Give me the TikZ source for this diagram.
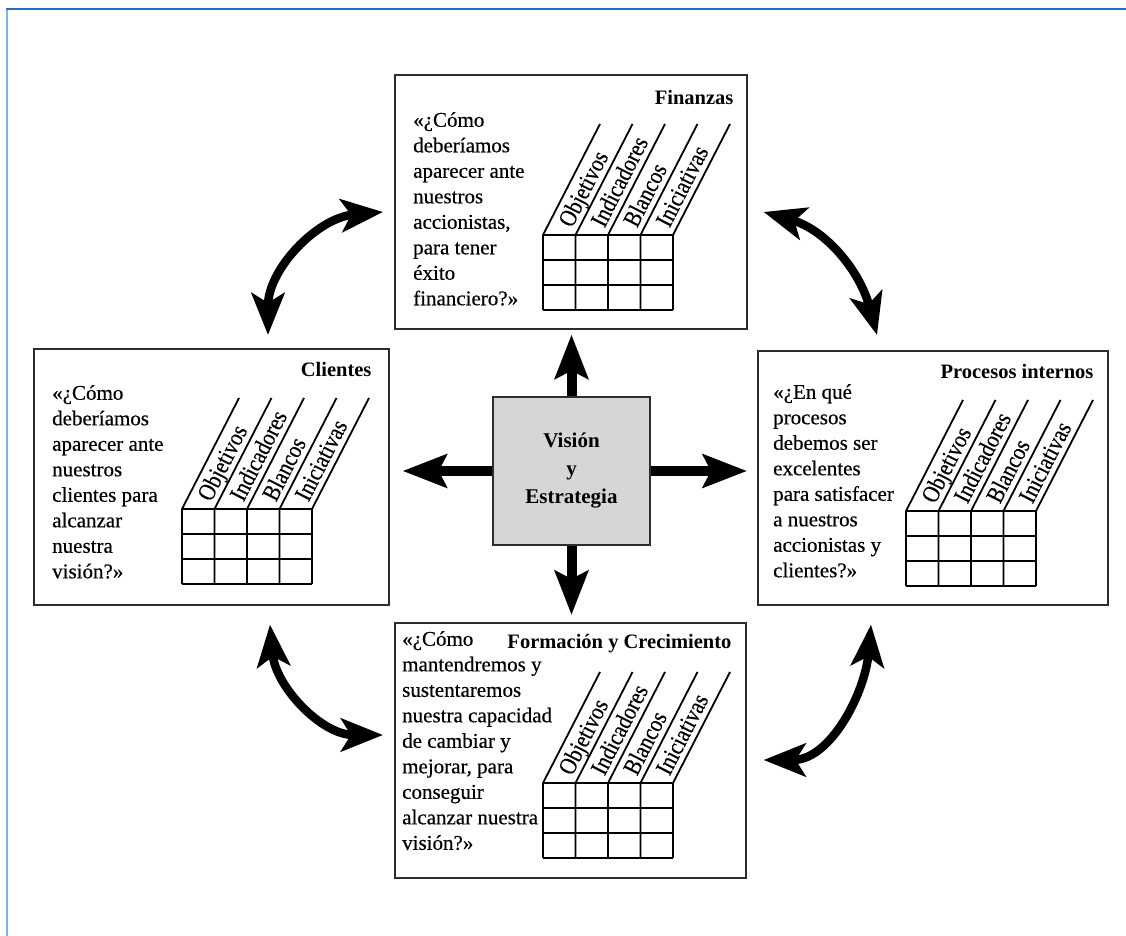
\documentclass[tikz,border=0pt]{standalone}
\usepackage{fontspec}
\setmainfont{Liberation Serif}
\newfontfamily\labfont[FakeStretch=0.85,FakeBold=0.4]{Liberation Serif}
\newfontfamily\txtfont[FakeBold=0.4]{Liberation Serif}
\usetikzlibrary{calc,arrows.meta}
\definecolor{bluetop}{RGB}{38,112,184}
\definecolor{blueleft}{RGB}{128,180,226}
\definecolor{visfill}{RGB}{214,214,214}
\definecolor{boxline}{RGB}{45,45,45}
\tikzset{
  panel/.style={draw=boxline, line width=1.6pt, fill=white, inner sep=0pt, anchor=north west},
  titlest/.style={anchor=base east, inner sep=0pt, font=\fontsize{20.5}{24}\selectfont\bfseries},
  bodyst/.style={anchor=north west, align=left, inner sep=0pt, font=\txtfont\fontsize{21}{25.5}\selectfont},
  tabline/.style={line width=1.8pt, black},
  collab/.style={rotate=63, anchor=base west, inner sep=0pt, font=\labfont\fontsize{24.5}{24.5}\selectfont},
  bigarrow/.style={line width=10pt, >={Stealth[length=44pt,width=33pt,inset=8pt]}, ->},
  curvarrow/.style={line width=8.5pt, >={Stealth[length=42pt,width=33pt,inset=10pt]}, <->},
}
\newcommand{\bsctable}[1]{%
  \begin{scope}[shift={($(#1.north west)+(149,-236)$)}]
    \foreach \r in {0,25,50,75} \draw[tabline] (0,\r) -- (130,\r);
    \foreach \c in {0,32.5,65,97.5,130} \draw[tabline] (\c,0) -- (\c,75) -- ++(57,111);
    \foreach \lab [count=\i] in {Objetivos,Indicadores,Blancos,Iniciativas}
      \node[collab] at ($(32.5*\i,75)+(63:4)+(153:6)$) {\lab};
  \end{scope}}
\begin{document}
\begin{tikzpicture}[x=1pt,y=1pt]
\useasboundingbox (0,0) rectangle (1126,936);
\fill[white] (0,0) rectangle (1126,936);
\draw[blueleft, line width=2.5pt] (7,927) -- (7,0);
\draw[bluetop, line width=2pt] (6,927) -- (1126,927);

% panels
\node[panel, minimum width=352, minimum height=254] (fin) at (394,862) {};
\node[panel, minimum width=355, minimum height=256] (cli) at (33,588) {};
\node[panel, minimum width=350, minimum height=254] (pro) at (757,586) {};
\node[panel, minimum width=351, minimum height=255] (frm) at (394,314) {};

% titles
\node[titlest] (finT) at ($(fin.north east)+(-14,-31)$) {Finanzas};
\node[titlest] (cliT) at ($(cli.north east)+(-18,-29)$) {Clientes};
\node[titlest] (proT) at ($(pro.north east)+(-15,-29)$) {Procesos internos};
\node[titlest] (frmT) at ($(frm.north east)+(-15,-27)$) {Formación y Crecimiento};

% body texts
\node[bodyst] (finB) at ($(fin.north west)+(19,-38)$) {«¿Cómo\\deberíamos\\aparecer ante\\nuestros\\accionistas,\\para tener\\éxito\\financiero?»};
\node[bodyst] (cliB) at ($(cli.north west)+(19,-37)$) {«¿Cómo\\deberíamos\\aparecer ante\\nuestros\\clientes para\\alcanzar\\nuestra\\visión?»};
\node[bodyst] (proB) at ($(pro.north west)+(16,-34)$) {«¿En qué\\procesos\\debemos ser\\excelentes\\para satisfacer\\a nuestros\\accionistas y\\clientes?»};
\node[bodyst] (frmB) at ($(frm.north west)+(8,-9)$) {«¿Cómo\\mantendremos y\\sustentaremos\\nuestra capacidad\\de cambiar y\\mejorar, para\\conseguir\\alcanzar nuestra\\visión?»};

% tables
\bsctable{fin}
\bsctable{cli}
\bsctable{pro}
\bsctable{frm}

% center
\node[draw=boxline, line width=1.6pt, fill=visfill, minimum width=157, minimum height=148, inner sep=0pt,
      align=center, font=\fontsize{21}{28}\selectfont\bfseries] (vis) at (571.5,465) {Visión\\y\\Estrategia};

\draw[bigarrow, shorten >=5pt] (vis.north) -- (vis.north |- fin.south);
\draw[bigarrow, shorten >=7pt] (vis.south) -- (vis.south |- frm.north);
\draw[bigarrow, shorten >=13pt] (vis.west) -- (vis.west -| cli.east);
\draw[bigarrow, shorten >=10pt] (vis.east) -- (vis.east -| pro.west);

% curved double arrows
\coordinate (tlA) at ($(fin.north west)+(-11,-138)$);
\coordinate (tlB) at ($(cli.north west)+(235,13)$);
\coordinate (trA) at ($(fin.north east)+(16,-138)$);
\coordinate (trB) at ($(pro.north west)+(120,15)$);
\coordinate (blA) at ($(cli.south west)+(237,-19)$);
\coordinate (blB) at ($(frm.north west)+(-11,-113)$);
\coordinate (brA) at ($(pro.south west)+(114,-19)$);
\coordinate (brB) at ($(frm.north east)+(17,-138)$);

\draw[curvarrow] (tlB) to[out=90,in=185] (tlA);
\draw[curvarrow] (trB) to[out=105,in=-16] (trA);
\draw[curvarrow] (blA) to[out=-85,in=180] (blB);
\draw[curvarrow] (brA) to[out=-95,in=0] (brB);
\end{tikzpicture}
\end{document}
